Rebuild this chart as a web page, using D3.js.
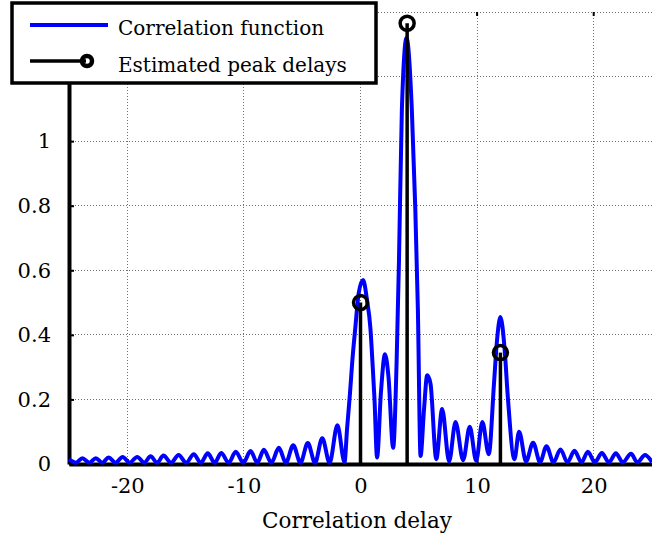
<!DOCTYPE html>
<html>
<head>
<meta charset="utf-8">
<script src="https://cdn.jsdelivr.net/npm/d3@7"></script>
<style>
  html, body { margin: 0; padding: 0; background: #fff; }
  svg text { font-family: "DejaVu Serif", "Liberation Serif", serif; fill: #000; }
</style>
</head>
<body>
<div id="chart"></div>
<script>
// Korrelationsfunktion, Peak-Schaetzungen, Achsen-Ticks
const corrDelay = [
  -25.0, -24.4, -23.85, -23.25, -22.7, -22.15, -21.6, -21.0, -20.4, -19.8,
  -19.15, -18.55, -18.0, -17.45, -16.9, -16.25, -15.6, -14.95, -14.3, -13.7,
  -13.1, -12.5, -11.95, -11.3, -10.7, -10.05, -9.43, -8.85, -8.29, -7.65,
  -7.0, -6.4, -5.77, -5.15, -4.52, -3.9, -3.28, -2.65, -1.98, -1.37,
  -1.15, -0.9, -0.7, -0.45, -0.15, 0.22, 0.55, 0.85, 1.05, 1.2,
  1.42, 1.75, 2.1, 2.4, 2.8, 3.1, 3.3, 3.55, 3.95, 4.4,
  4.7, 4.92, 5.15, 5.45, 5.72, 6.0, 6.5, 7.0, 7.6, 8.15,
  8.8, 9.37, 9.92, 10.45, 11.0, 11.45, 11.7, 12.0, 12.35, 12.65,
  13.2, 13.6, 14.2, 14.8, 15.4, 15.95, 16.55, 17.15, 17.75, 18.35,
  18.95, 19.5, 20.1, 20.7, 21.3, 21.9, 22.5, 23.2, 23.75, 24.4, 25.0
];
const corrValue = [
  0.015, 0.004, 0.018, 0.004, 0.018, 0.004, 0.02, 0.004, 0.022, 0.004,
  0.022, 0.004, 0.024, 0.004, 0.026, 0.004, 0.028, 0.004, 0.03, 0.004,
  0.033, 0.004, 0.034, 0.004, 0.038, 0.004, 0.04, 0.004, 0.044, 0.004,
  0.05, 0.004, 0.058, 0.004, 0.065, 0.004, 0.08, 0.004, 0.12, 0.006,
  0.11, 0.22, 0.32, 0.42, 0.53, 0.57, 0.51, 0.42, 0.3, 0.2,
  0.02, 0.22, 0.34, 0.27, 0.05, 0.32, 0.63, 1.1, 1.32, 1.1,
  0.79, 0.48, 0.025, 0.17, 0.275, 0.25, 0.015, 0.17, 0.008, 0.13,
  0.012, 0.115, 0.01, 0.13, 0.03, 0.25, 0.38, 0.455, 0.36, 0.2,
  0.015, 0.1, 0.008, 0.066, 0.006, 0.055, 0.005, 0.045, 0.005, 0.041,
  0.005, 0.038, 0.005, 0.034, 0.005, 0.033, 0.005, 0.032, 0.005, 0.028, 0.006
];
const peakDelay = [0, 4, 12];
const peakValue = [0.5, 1.365, 0.345];

const xTicks = [-20, -10, 0, 10, 20];
const yTicks = [0, 0.2, 0.4, 0.6, 0.8, 1, 1.2, 1.4];
const legendLabels = ["Correlation function", "Estimated peak delays"];

// Layout
const W = 652, H = 538;
const L = 69, R = 652, T = 12, B = 464;

const svg = d3.select("#chart").append("svg").attr("width", W).attr("height", H);

const x = d3.scaleLinear().domain([-25, 25]).range([L, R]);
const y = d3.scaleLinear().domain([0, 1.4]).range([B, T]);

// Gitter
const grid = svg.append("g").attr("stroke", "#707070").attr("stroke-width", 1)
  .attr("stroke-dasharray", "1,2").attr("shape-rendering", "crispEdges");
grid.selectAll(".gx").data(xTicks).join("line")
  .attr("x1", d => x(d)).attr("x2", d => x(d)).attr("y1", T).attr("y2", B);
grid.selectAll(".gy").data(yTicks).join("line")
  .attr("x1", L).attr("x2", R).attr("y1", d => y(d)).attr("y2", d => y(d));

// Ticks oben (innen)
svg.append("g").selectAll("line").data(xTicks).join("line")
  .attr("x1", d => x(d)).attr("x2", d => x(d)).attr("y1", T).attr("y2", T + 4)
  .attr("stroke", "#000").attr("stroke-width", 2);

// Achsen
const xAxis = svg.append("g").attr("transform", `translate(0,${B})`)
  .call(d3.axisBottom(x).tickValues(xTicks).tickSizeInner(-5).tickSizeOuter(0).tickPadding(14).tickFormat(d => d));
const yAxis = svg.append("g").attr("transform", `translate(${L},0)`)
  .call(d3.axisLeft(y).tickValues(yTicks).tickSizeInner(-5).tickSizeOuter(0).tickPadding(18)
    .tickFormat(d => d));
[xAxis, yAxis].forEach(a => {
  a.select(".domain").attr("stroke", "#000").attr("stroke-width", 4);
  a.selectAll(".tick line").attr("stroke", "#000").attr("stroke-width", 2);
  a.selectAll("text").attr("font-size", 21).attr("font-family", "DejaVu Serif");
});

// Kurve
const pts = corrDelay.map((d, i) => [d, corrValue[i]]);
svg.append("path").datum(pts)
  .attr("fill", "none").attr("stroke", "#0000ff").attr("stroke-width", 4)
  .attr("stroke-linejoin", "round")
  .attr("d", d3.line().x(d => x(d[0])).y(d => y(d[1])).curve(d3.curveMonotoneX));

// Stems
const stems = svg.append("g");
peakDelay.forEach((d, i) => {
  stems.append("line")
    .attr("x1", x(d)).attr("x2", x(d)).attr("y1", y(0)).attr("y2", y(peakValue[i]))
    .attr("stroke", "#000").attr("stroke-width", 3.5);
  stems.append("circle")
    .attr("cx", x(d)).attr("cy", y(peakValue[i])).attr("r", 7)
    .attr("fill", "none").attr("stroke", "#000").attr("stroke-width", 3.5);
});

// x-Label
svg.append("text").attr("x", 357).attr("y", 528).attr("text-anchor", "middle")
  .attr("font-size", 21.5).text("Correlation delay");

// Legende
const lg = svg.append("g");
lg.append("rect").attr("x", 12).attr("y", 3).attr("width", 364).attr("height", 80)
  .attr("fill", "#fff").attr("stroke", "#000").attr("stroke-width", 3.5);
lg.append("line").attr("x1", 30).attr("x2", 108).attr("y1", 25).attr("y2", 25)
  .attr("stroke", "#0000ff").attr("stroke-width", 4);
lg.append("line").attr("x1", 30).attr("x2", 86).attr("y1", 61).attr("y2", 61)
  .attr("stroke", "#000").attr("stroke-width", 3.5);
lg.append("circle").attr("cx", 87).attr("cy", 61).attr("r", 5)
  .attr("fill", "none").attr("stroke", "#000").attr("stroke-width", 4.5);
legendLabels.forEach((t, i) => {
  lg.append("text").attr("x", 118).attr("y", 35 + i * 37).attr("font-size", 20).text(t);
});
</script>
</body>
</html>
